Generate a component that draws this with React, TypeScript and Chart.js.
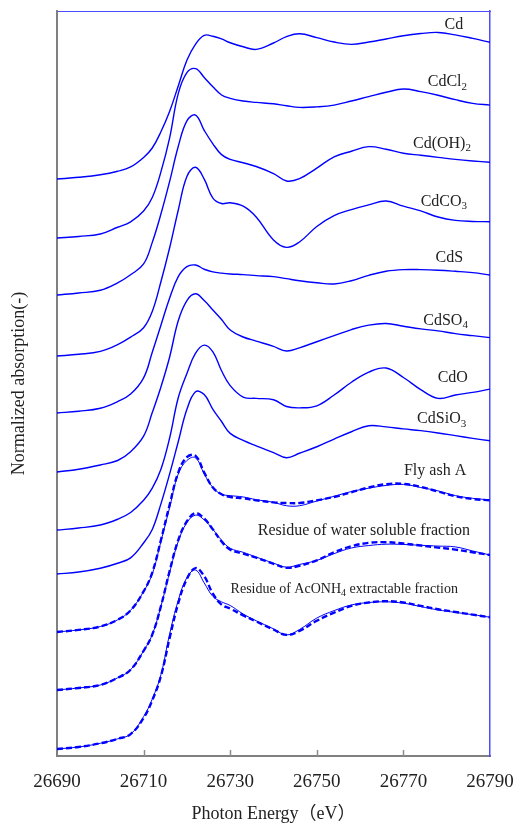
import React, { useEffect, useRef } from 'react';
import { Chart, registerables } from 'chart.js';

Chart.register(...registerables);

const SERIF = '"Liberation Serif", "Noto Sans CJK JP", serif';

// Photon energy grid (eV)
const energies = [26690, 26695, 26700, 26704, 26707, 26710, 26712, 26714, 26716, 26718, 26720, 26722, 26724, 26726, 26728, 26730, 26733, 26736, 26740, 26743, 26746, 26750, 26754, 26758, 26762, 26766, 26770, 26774, 26778, 26782, 26786, 26790];

// Normalized absorption (each spectrum, before vertical offset)
const cd = [0, 0.013, 0.032, 0.058, 0.09, 0.16, 0.23, 0.35, 0.50, 0.69, 0.88, 1.0, 1.065, 1.058, 1.038, 1.01, 0.98, 0.961, 1.008, 1.055, 1.076, 1.048, 1.015, 0.998, 1.015, 1.038, 1.062, 1.078, 1.086, 1.068, 1.042, 1.013];
const cdCl2 = [0, 0.012, 0.03, 0.08, 0.12, 0.2, 0.30, 0.49, 0.74, 1.07, 1.225, 1.255, 1.19, 1.12, 1.06, 1.035, 1.015, 1.005, 0.995, 0.98, 0.968, 0.972, 0.985, 1.015, 1.048, 1.08, 1.104, 1.085, 1.058, 1.025, 0.998, 0.985];
const cdOH2 = [0, 0.015, 0.035, 0.09, 0.15, 0.23, 0.39, 0.60, 0.84, 1.1, 1.29, 1.333, 1.22, 1.12, 1.04, 1.005, 0.98, 0.952, 0.90, 0.845, 0.862, 0.94, 1.024, 1.065, 1.099, 1.08, 1.05, 1.035, 1.02, 1.005, 0.993, 0.983];
const cdCO3 = [0, 0.013, 0.035, 0.085, 0.14, 0.21, 0.33, 0.55, 0.80, 1.08, 1.33, 1.398, 1.31, 1.17, 1.13, 1.135, 1.11, 1.03, 0.86, 0.805, 0.845, 0.96, 1.04, 1.085, 1.12, 1.148, 1.11, 1.075, 1.03, 1.005, 0.997, 0.995];
const cdS = [0, 0.013, 0.035, 0.085, 0.14, 0.26, 0.45, 0.65, 0.85, 1.01, 1.084, 1.096, 1.065, 1.045, 1.036, 1.03, 1.025, 1.018, 1.01, 0.995, 0.98, 0.965, 0.956, 0.98, 1.02, 1.05, 1.062, 1.062, 1.058, 1.05, 1.04, 1.022];
const cdSO4 = [0, 0.02, 0.052, 0.085, 0.15, 0.265, 0.44, 0.63, 0.85, 1.12, 1.27, 1.32, 1.27, 1.2, 1.13, 1.052, 1.0, 0.97, 0.93, 0.896, 0.92, 0.965, 1.01, 1.055, 1.088, 1.1, 1.08, 1.06, 1.045, 1.025, 1.01, 0.995];
const cdO = [0, 0.015, 0.037, 0.08, 0.13, 0.22, 0.31, 0.45, 0.68, 0.98, 1.16, 1.31, 1.37, 1.32, 1.18, 1.07, 0.985, 0.975, 0.965, 0.915, 0.905, 0.92, 1.0, 1.095, 1.17, 1.2, 1.13, 1.04, 0.975, 1.0, 1.02, 1.044];
const cdSiO3 = [0, 0.015, 0.043, 0.08, 0.12, 0.23, 0.33, 0.52, 0.74, 0.98, 1.22, 1.35, 1.33, 1.22, 1.13, 1.042, 0.99, 0.95, 0.9, 0.862, 0.895, 0.943, 1.0, 1.054, 1.099, 1.09, 1.075, 1.062, 1.045, 1.025, 1.005, 0.987];
const flyAshA = [0, 0.015, 0.04, 0.09, 0.16, 0.30, 0.43, 0.67, 0.92, 1.17, 1.27, 1.29, 1.17, 1.07, 1.02, 1.01, 1.0, 0.98, 0.96, 0.935, 0.935, 0.97, 1.005, 1.04, 1.065, 1.085, 1.093, 1.07, 1.045, 1.01, 0.99, 0.978];
const flyAshAFit = [0, 0.015, 0.04, 0.09, 0.16, 0.30, 0.44, 0.68, 0.94, 1.18, 1.295, 1.305, 1.18, 1.07, 1.02, 1.0, 0.99, 0.975, 0.96, 0.955, 0.955, 0.975, 1.0, 1.035, 1.07, 1.095, 1.097, 1.075, 1.04, 1.005, 0.985, 0.975];
const waterRes = [0, 0.015, 0.037, 0.09, 0.15, 0.29, 0.41, 0.62, 0.87, 1.10, 1.24, 1.295, 1.26, 1.19, 1.11, 1.05, 1.02, 0.985, 0.94, 0.91, 0.93, 0.96, 1.01, 1.052, 1.07, 1.08, 1.078, 1.072, 1.066, 1.06, 1.03, 1.0];
const waterResFit = [0, 0.015, 0.037, 0.09, 0.15, 0.29, 0.41, 0.62, 0.88, 1.11, 1.25, 1.31, 1.27, 1.19, 1.10, 1.04, 1.01, 0.98, 0.935, 0.905, 0.92, 0.96, 1.02, 1.065, 1.09, 1.095, 1.085, 1.07, 1.055, 1.04, 1.02, 1.0];
const acRes = [0, 0.015, 0.042, 0.075, 0.11, 0.24, 0.37, 0.55, 0.85, 1.10, 1.27, 1.325, 1.23, 1.13, 1.09, 1.063, 1.0, 0.95, 0.89, 0.845, 0.885, 0.97, 1.025, 1.067, 1.085, 1.09, 1.08, 1.055, 1.03, 1.012, 0.995, 0.976];
const acResFit = [0, 0.015, 0.042, 0.075, 0.11, 0.23, 0.36, 0.54, 0.82, 1.08, 1.26, 1.34, 1.28, 1.15, 1.07, 1.04, 0.99, 0.945, 0.885, 0.845, 0.875, 0.95, 1.01, 1.06, 1.085, 1.095, 1.085, 1.06, 1.035, 1.015, 0.995, 0.976];

// Vertical stacking offsets (normalized units)
const offsets = {
  cd: 4.222, cdCl2: 3.785, cdOH2: 3.363, cdCO3: 2.911, cdS: 2.489, cdSO4: 2.052,
  cdO: 1.622, cdSiO3: 1.296, fly: 0.867, water: 0.437, ac: 0,
};

const Y_MIN = -0.052;
const Y_MAX = 5.467;
const X_MIN = 26690;
const X_MAX = 26790;
const X_STEP = 20;

type Kind = 'ref' | 'sample' | 'fit';
const series: { name: string; values: number[]; offset: number; kind: Kind }[] = [
  { name: 'Cd', values: cd, offset: offsets.cd, kind: 'ref' },
  { name: 'CdCl2', values: cdCl2, offset: offsets.cdCl2, kind: 'ref' },
  { name: 'Cd(OH)2', values: cdOH2, offset: offsets.cdOH2, kind: 'ref' },
  { name: 'CdCO3', values: cdCO3, offset: offsets.cdCO3, kind: 'ref' },
  { name: 'CdS', values: cdS, offset: offsets.cdS, kind: 'ref' },
  { name: 'CdSO4', values: cdSO4, offset: offsets.cdSO4, kind: 'ref' },
  { name: 'CdO', values: cdO, offset: offsets.cdO, kind: 'ref' },
  { name: 'CdSiO3', values: cdSiO3, offset: offsets.cdSiO3, kind: 'ref' },
  { name: 'Fly ash A', values: flyAshA, offset: offsets.fly, kind: 'sample' },
  { name: 'Fly ash A fit', values: flyAshAFit, offset: offsets.fly, kind: 'fit' },
  { name: 'Water residue', values: waterRes, offset: offsets.water, kind: 'sample' },
  { name: 'Water residue fit', values: waterResFit, offset: offsets.water, kind: 'fit' },
  { name: 'AcONH4 residue', values: acRes, offset: offsets.ac, kind: 'sample' },
  { name: 'AcONH4 residue fit', values: acResFit, offset: offsets.ac, kind: 'fit' },
];

// Curve labels: text ("_n" = subscript), anchor energy (right edge), anchor value
const labelTexts = ['Cd', 'CdCl_2', 'Cd(OH)_2', 'CdCO_3', 'CdS', 'CdSO_4', 'CdO', 'CdSiO_3', 'Fly ash A', 'Residue of water soluble fraction', 'Residue of AcONH_4 extractable fraction'];
const labelEnergies = [26783.8, 26784.7, 26785.6, 26784.7, 26783.8, 26784.9, 26784.9, 26784.5, 26784.5, 26785.4, 26782.6];
const labelValues = [5.366, 4.941, 4.484, 4.057, 3.642, 3.173, 2.748, 2.444, 2.062, 1.62, 1.183];
const labelSizes = [16, 16, 16, 16, 16, 16, 16, 16, 16, 16, 14];

const LINE = '#0000ff';

const tickMarks = {
  id: 'innerTicks',
  beforeDatasetsDraw(chart: any) {
    const { ctx, scales } = chart;
    const xs = scales.x;
    ctx.save();
    ctx.strokeStyle = '#8c8c8c';
    ctx.lineWidth = 1.5;
    for (const t of xs.ticks) {
      if (t.value <= X_MIN || t.value >= X_MAX) continue;
      const px = Math.round(xs.getPixelForValue(t.value)) + 0.5;
      ctx.beginPath();
      ctx.moveTo(px, xs.top);
      ctx.lineTo(px, xs.top - 6);
      ctx.stroke();
    }
    ctx.restore();
  },
};

const curveLabels = {
  id: 'curveLabels',
  afterDatasetsDraw(chart: any) {
    const { ctx, scales } = chart;
    const xs = scales.x;
    const ys = scales.y;
    ctx.save();
    ctx.fillStyle = '#222';
    ctx.textBaseline = 'middle';
    ctx.textAlign = 'left';
    labelTexts.forEach((text, i) => {
      const size = labelSizes[i];
      const mainFont = `${size}px ${SERIF}`;
      const subFont = `${Math.round(size * 0.68)}px ${SERIF}`;
      const segs = text.split(/(_\d)/).filter(Boolean).map((p) => {
        const isSub = p.startsWith('_');
        const t = isSub ? p.slice(1) : p;
        ctx.font = isSub ? subFont : mainFont;
        return { t, isSub, w: ctx.measureText(t).width };
      });
      const total = segs.reduce((a, s) => a + s.w, 0);
      let px = xs.getPixelForValue(labelEnergies[i]) - total;
      const py = ys.getPixelForValue(labelValues[i]);
      for (const s of segs) {
        ctx.font = s.isSub ? subFont : mainFont;
        ctx.fillText(s.t, px, s.isSub ? py + size * 0.3 : py);
        px += s.w;
      }
    });
    ctx.restore();
  },
};

export default function App() {
  const ref = useRef<HTMLCanvasElement | null>(null);

  useEffect(() => {
    if (!ref.current) return;
    const datasets = series.map((s) => ({
      label: s.name,
      data: energies.map((e, i) => ({ x: e, y: s.values[i] + s.offset })),
      borderColor: LINE,
      borderWidth: s.kind === 'fit' ? 2.4 : s.kind === 'sample' ? 1 : 1.4,
      borderDash: s.kind === 'fit' ? [6, 3] : [],
      pointRadius: 0,
      fill: false,
      tension: 0.4,
      xAxisID: 'x',
      yAxisID: 'y',
    }));

    const noPad = (s: any) => { s.paddingLeft = 0; s.paddingRight = 0; s.paddingTop = 0; s.paddingBottom = 0; };

    const chart = new Chart(ref.current, {
      type: 'line',
      data: { datasets },
      options: {
        responsive: false,
        animation: false,
        layout: { padding: 0 },
        plugins: { legend: { display: false }, tooltip: { enabled: false } },
        scales: {
          x: {
            type: 'linear',
            position: 'bottom',
            min: X_MIN,
            max: X_MAX,
            ticks: {
              stepSize: X_STEP,
              callback: (v: any) => String(v),
              font: { family: SERIF, size: 19, lineHeight: 1.2 },
              color: '#222',
              padding: 15,
              maxRotation: 0,
              autoSkip: false,
            },
            grid: { display: false, drawTicks: false },
            border: { color: '#808080', width: 2 },
            title: {
              display: true,
              text: 'Photon Energy（eV）',
              font: { family: SERIF, size: 18, lineHeight: 1 },
              color: '#222',
              padding: 0,
            },
            afterFit: (s: any) => { s.height = 67; noPad(s); },
          },
          x2: {
            type: 'linear',
            position: 'top',
            min: X_MIN,
            max: X_MAX,
            ticks: { display: false },
            grid: { display: false, drawTicks: false },
            border: { color: '#4d4dff', width: 1 },
            afterFit: (s: any) => { s.height = 11; noPad(s); },
          },
          y: {
            type: 'linear',
            position: 'left',
            min: Y_MIN,
            max: Y_MAX,
            ticks: { display: false },
            grid: { display: false, drawTicks: false },
            border: { color: '#808080', width: 2 },
            title: {
              display: true,
              text: 'Normalized absorption(-)',
              font: { family: SERIF, size: 18, lineHeight: 1 },
              color: '#222',
              padding: { top: 10, bottom: 0 },
            },
            afterFit: (s: any) => { s.width = 57; noPad(s); },
          },
          y2: {
            type: 'linear',
            position: 'right',
            min: Y_MIN,
            max: Y_MAX,
            ticks: { display: false },
            grid: { display: false, drawTicks: false },
            border: { color: '#4d4dff', width: 1.5 },
            afterFit: (s: any) => { s.width = 24; noPad(s); },
          },
        },
      } as any,
      plugins: [tickMarks, curveLabels],
    });
    return () => chart.destroy();
  }, []);

  return (
    <div style={{ position: 'absolute', left: 0, top: 0, width: 514, height: 823, background: '#fff' }}>
      <canvas ref={ref} width={514} height={823} style={{ display: 'block', width: 514, height: 823 }} />
    </div>
  );
}
